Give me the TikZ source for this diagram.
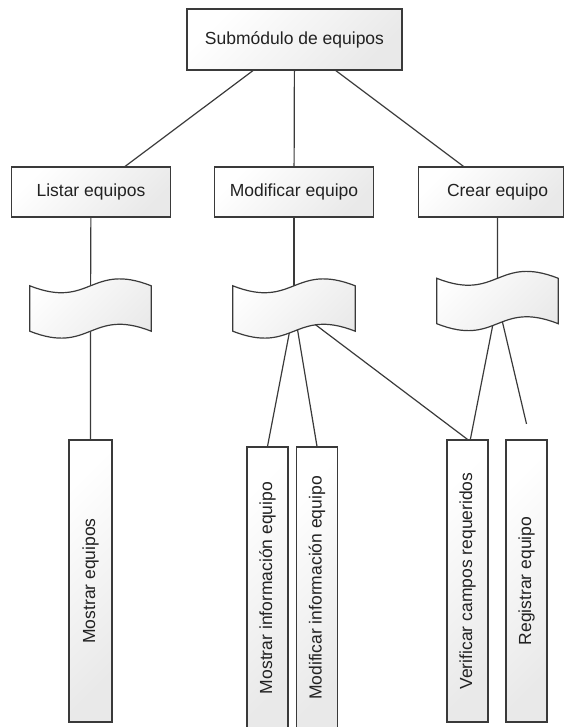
\documentclass[tikz,border=0pt]{standalone}
\usepackage{fontspec}
\setmainfont{Liberation Sans}
\usetikzlibrary{calc,backgrounds}

\definecolor{edge}{HTML}{3A3A3A}
\definecolor{paper}{HTML}{E9E9E9}
\definecolor{ink}{HTML}{222222}

\tikzset{
  boxfill/.style={top color=white, bottom color=paper, shading angle=45},
  modbox/.style={draw=edge, line width=1.2pt, boxfill, inner sep=0pt,
    font=\fontsize{17.5}{21}\selectfont, text=ink},
  rootbox/.style={modbox, minimum width=215pt, minimum height=61pt},
  lvlbox/.style={modbox, minimum width=159pt, minimum height=50pt},
  leafbox/.style={modbox, rotate=90, minimum width=282pt, minimum height=41pt},
  tapenode/.style={draw=none, inner sep=0pt, minimum width=121pt, minimum height=45pt},
  tapeline/.style={draw=edge, line width=1.2pt, boxfill},
  conn/.style={draw=edge, line width=1.2pt},
}

% wavy "tape" outline laid over the bounding box of a named node
\newcommand{\tapeflag}[1]{%
  \path[tapeline] (#1.north west)
    .. controls ($(#1.north west)!0.5!(#1.north east)+(0,24)$)
           and ($(#1.north west)!0.5!(#1.north east)+(0,-24)$) .. (#1.north east)
    -- (#1.south east)
    .. controls ($(#1.south west)!0.5!(#1.south east)+(0,-24)$)
           and ($(#1.south west)!0.5!(#1.south east)+(0,24)$) .. (#1.south west)
    -- cycle;}

\begin{document}
\begin{tikzpicture}[x=1pt, y=-1pt]
\useasboundingbox (0,0) rectangle (564,727);

% hierarchy boxes
\node[rootbox] (root) at (294.5,39.5) {Submódulo de equipos};
\node[lvlbox] (listar) at (91,192) {Listar equipos};
\node[lvlbox] (modif) at (294,192) {Modificar equipo};
\node[lvlbox, minimum width=145pt, anchor=west] (crear) at (418,192) {\hspace*{13pt}Crear equipo};
\coordinate (crearMid) at ([xshift=6.5pt]crear.center);

% leaf boxes
\node[leafbox, minimum height=43pt] (mostrarEq) at (90.5,581) {Mostrar equipos};
\node[leafbox] (mostrarInfo) at (267.5,588) {Mostrar información equipo};
\node[leafbox] (modifInfo) at (317,588) {Modificar información equipo};
\node[leafbox] (verif) at (467.5,581) {Verificar campos requeridos};
\node[leafbox] (registrar) at (526.5,581) {Registrar equipo};

% tape anchors
\node[tapenode] (w1) at (90.5,308.5) {};
\node[tapenode, minimum width=122pt] (w2) at (294,308.5) {};
\node[tapenode] (w3) at (497.5,301) {};

% connectors (kept behind the filled shapes)
\begin{scope}[on background layer]
  \draw[conn] (root) -- (listar);
  \draw[conn] (root) -- (modif);
  \draw[conn] (root) -- (crearMid);
  \draw[conn] (listar) -- (w1.center) -- (mostrarEq);
  \draw[conn] (modif) -- (w2.center);
  \draw[conn] (w2.center) -- (mostrarInfo.east);
  \draw[conn] (w2.center) -- (modifInfo.east);
  \draw[conn] (w2.center) -- (verif.east);
  \draw[conn] (crearMid) -- (w3.center);
  \draw[conn] (w3.center) -- ([yshift=-14.5pt]verif.east);
  \draw[conn] (w3.center) -- ([yshift=15.5pt]registrar.east);
\end{scope}

% tapes drawn over their connectors
\tapeflag{w1}
\tapeflag{w2}
\tapeflag{w3}
\end{tikzpicture}
\end{document}
